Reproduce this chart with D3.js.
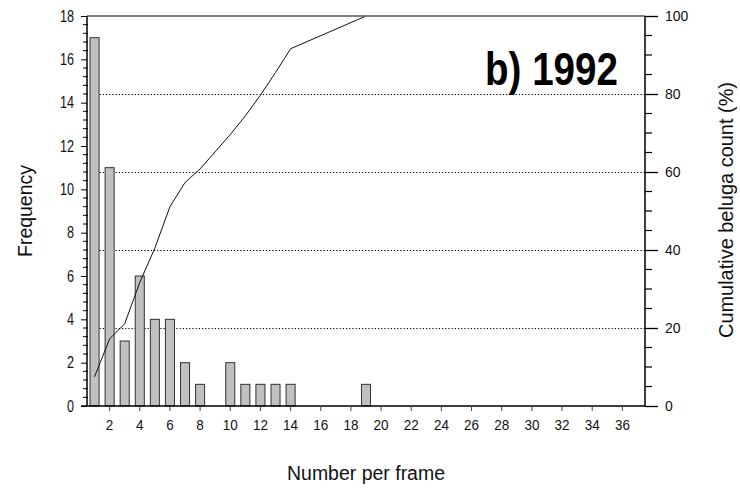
<!DOCTYPE html>
<html>
<head>
<meta charset="utf-8">
<script src="https://cdn.jsdelivr.net/npm/d3@7"></script>
<style>
body{margin:0;background:#fff;}
.cond{font-family:"Liberation Sans Narrow","Arial Narrow","Liberation Sans",sans-serif;}
.arial{font-family:"Liberation Sans",Arial,sans-serif;}
</style>
</head>
<body>
<script>
var categories = d3.range(1, 38);
var frequency = [17,11,3,6,4,4,2,1,0,2,1,1,1,1,0,0,0,0,1,0,0,0,0,0,0,0,0,0,0,0,0,0,0,0,0,0,0];
var cumNumber = [1,2,3,4,5,6,7,8,10,11,12,13,14,19];
var cumPercent = [7.5,17.2,21.1,31.7,40.5,51.1,57.3,60.8,69.6,74.4,79.7,85.5,91.6,100];
var leftTicks = [0,2,4,6,8,10,12,14,16,18];
var rightTicks = [0,20,40,60,80,100];
var bottomTicks = d3.range(2, 37, 2);
var gridValues = [20,40,60,80];

var W = 740, H = 488;
var margin = {top:16, left:87, right:95, bottom:82};

var svg = d3.select("body").append("svg").attr("width",W).attr("height",H);

var x = d3.scaleBand().domain(categories).range([margin.left, W - margin.right]).paddingInner(0.4).paddingOuter(0.2);
var xc = function(d){ return x(d) + x.bandwidth()/2; };
var y = d3.scaleLinear().domain([0,18]).range([H - margin.bottom, margin.top]);
var y2 = d3.scaleLinear().domain([0,100]).range([H - margin.bottom, margin.top]);

var x0 = margin.left, x1 = W - margin.right, yb = H - margin.bottom, yt = margin.top;

// dotted gridlines at right-axis values
svg.append("g").selectAll("line").data(gridValues).join("line")
    .attr("x1", x0 + 3).attr("x2", x1)
    .attr("y1", function(d){ return Math.round(y2(d)) + 0.5; })
    .attr("y2", function(d){ return Math.round(y2(d)) + 0.5; })
    .attr("stroke","#000").attr("stroke-width",1.2).attr("stroke-dasharray","1.2,2");

// bars
svg.append("g").selectAll("rect").data(categories.filter(function(d,i){ return frequency[i] > 0; })).join("rect")
    .attr("x", function(d){ return x(d); })
    .attr("width", x.bandwidth())
    .attr("y", function(d){ return y(frequency[d-1]); })
    .attr("height", function(d){ return yb - y(frequency[d-1]); })
    .attr("fill","#c0c0c0").attr("stroke","#333").attr("stroke-width",1);

// cumulative line
var line = d3.line().x(function(d,i){ return xc(cumNumber[i]); }).y(function(d){ return y2(d); });
svg.append("path").datum(cumPercent).attr("d", line)
    .attr("fill","none").attr("stroke","#111").attr("stroke-width",1);

// top frame line
svg.append("line").attr("x1",x0).attr("x2",x1).attr("y1",yt).attr("y2",yt).attr("stroke","#555").attr("stroke-width",1.5);

// left axis
var yAxis = d3.axisLeft(y).tickValues(leftTicks).tickSize(6).tickPadding(7);
var gl = svg.append("g").attr("transform","translate("+x0+",0)").call(yAxis);
gl.select(".domain").attr("d","M0,"+yt+"V"+yb).attr("stroke-width",1.5);
gl.selectAll("text").attr("class","cond").style("font-size","16px").attr("fill","#111")
    .attr("textLength",function(d){ return String(d).length * 7; }).attr("lengthAdjust","spacingAndGlyphs");
gl.append("g").selectAll("line").data(d3.range(0, 18.01, 0.4).filter(function(v){ return Math.abs(v/2 - Math.round(v/2)) > 0.01; })).join("line")
    .attr("x1",-4).attr("x2",1).attr("y1",function(d){ return y(d); }).attr("y2",function(d){ return y(d); })
    .attr("stroke","#000");

// right axis
var y2Axis = d3.axisRight(y2).tickValues(rightTicks).tickSize(13).tickPadding(7);
var gr = svg.append("g").attr("transform","translate("+x1+",0)").call(y2Axis);
gr.select(".domain").attr("d","M0,"+yt+"V"+yb).attr("stroke-width",1.5);
gr.selectAll(".tick line").attr("stroke-width",1.3);
gr.selectAll("text").attr("class","arial").style("font-size","14px").attr("fill","#111");
gr.append("g").selectAll("line").data(d3.range(5, 100, 5).filter(function(v){ return v % 20 !== 0; })).join("line")
    .attr("x1",0).attr("x2",7).attr("y1",function(d){ return y2(d); }).attr("y2",function(d){ return y2(d); })
    .attr("stroke","#000").attr("stroke-width",1.2);

// bottom axis
var xAxis = d3.axisBottom(x).tickValues(bottomTicks).tickSize(5).tickPadding(8);
var gb = svg.append("g").attr("transform","translate(0,"+yb+")").call(xAxis);
gb.select(".domain").attr("d","M"+(x0-6)+",0H"+x1).attr("stroke-width",1.5);
gb.selectAll(".tick line").attr("stroke","#444");
gb.selectAll("text").attr("class","cond").style("font-size","15px").attr("fill","#111")
    .attr("textLength",function(d){ return String(d).length * 7.5; }).attr("lengthAdjust","spacingAndGlyphs");

// axis titles
svg.append("text").attr("class","arial").attr("transform","translate(32,211) rotate(-90)")
    .attr("text-anchor","middle").style("font-size","20px").attr("fill","#111")
    .attr("textLength",92).attr("lengthAdjust","spacingAndGlyphs").text("Frequency");
svg.append("text").attr("class","arial").attr("transform","translate(733,210) rotate(-90)")
    .attr("text-anchor","middle").style("font-size","20px").attr("fill","#111")
    .attr("textLength",256).attr("lengthAdjust","spacingAndGlyphs").text("Cumulative beluga count (%)");
svg.append("text").attr("class","arial").attr("x",366).attr("y",480)
    .attr("text-anchor","middle").style("font-size","20px").attr("fill","#111")
    .attr("textLength",158).attr("lengthAdjust","spacingAndGlyphs").text("Number per frame");

// panel title
svg.append("text").attr("class","arial").attr("x",485).attr("y",85)
    .style("font-size","46px").style("font-weight","bold").attr("fill","#000")
    .attr("textLength",133).attr("lengthAdjust","spacingAndGlyphs").text("b) 1992");
</script>
</body>
</html>
